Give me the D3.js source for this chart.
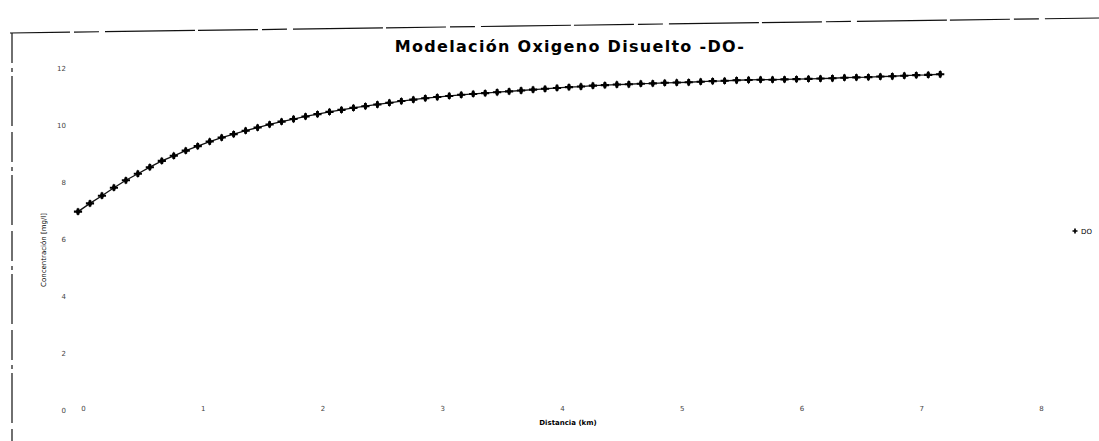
<!DOCTYPE html>
<html>
<head>
<meta charset="utf-8">
<script src="https://cdn.jsdelivr.net/npm/d3@7"></script>
<style>
  body { margin: 0; background: #fff; }
  text { font-family: "DejaVu Sans", sans-serif; }
</style>
</head>
<body>
<svg width="1099" height="441"></svg>
<script>
// distance (km) of each modelled point
var distancias = [0.0,0.1,0.2,0.3,0.4,0.5,0.6,0.7,0.8,0.9,1.0,1.1,1.2,1.3,1.4,1.5,1.6,1.7,1.8,1.9,
  2.0,2.1,2.2,2.3,2.4,2.5,2.6,2.7,2.8,2.9,3.0,3.1,3.2,3.3,3.4,3.5,3.6,3.7,3.8,3.9,
  4.0,4.1,4.2,4.3,4.4,4.5,4.6,4.7,4.8,4.9,5.0,5.1,5.2,5.3,5.4,5.5,5.6,5.7,5.8,5.9,
  6.0,6.1,6.2,6.3,6.4,6.5,6.6,6.7,6.8,6.9,7.0,7.1,7.2];
// dissolved oxygen (mg/l)
var oxigeno = [6.96,7.25,7.52,7.80,8.06,8.29,8.52,8.74,8.92,9.10,9.26,9.42,9.56,9.68,9.80,9.91,10.02,10.12,10.21,10.30,
  10.38,10.46,10.53,10.60,10.66,10.72,10.78,10.84,10.89,10.94,10.98,11.02,11.06,11.09,11.12,11.15,11.18,11.21,11.24,11.27,
  11.30,11.33,11.35,11.38,11.40,11.42,11.43,11.45,11.46,11.48,11.49,11.50,11.52,11.54,11.55,11.57,11.58,11.59,11.59,11.60,
  11.61,11.62,11.63,11.64,11.66,11.67,11.68,11.70,11.71,11.73,11.75,11.76,11.78];
var yTicks = [0, 2, 4, 6, 8, 10, 12];
var xTicks = [0, 1, 2, 3, 4, 5, 6, 7, 8];

var svg = d3.select("svg");

// scanned page frame
svg.append("line").attr("x1",10).attr("y1",33).attr("x2",1099).attr("y2",18)
  .style("stroke","#111").style("stroke-width","1.2px").style("stroke-dasharray","60 4 25 6 90 3");
svg.append("line").attr("x1",12).attr("y1",33).attr("x2",12).attr("y2",441)
  .style("stroke","#111").style("stroke-width","1.2px").style("stroke-dasharray","30 5 4 4 50 6");

var x = d3.scaleLinear().domain([0, 8]).range([78, 1036]);
var y = d3.scaleLinear().domain([0, 12]).range([410, 68]);

// axes: labels only, no lines
var gy = svg.append("g").attr("transform","translate(70,0)")
  .call(d3.axisLeft(y).tickValues(yTicks).tickSize(0).tickPadding(4));
gy.select(".domain").remove();
gy.selectAll("text").style("font-size","7px").style("fill","#444");

var gx = svg.append("g").attr("transform","translate(5,404)")
  .call(d3.axisBottom(x).tickValues(xTicks).tickSize(0).tickPadding(2));
gx.select(".domain").remove();
gx.selectAll("text").style("font-size","7px").style("fill","#444");

svg.append("text").attr("x",570).attr("y",52).attr("text-anchor","middle")
  .style("font-size","16px").style("font-weight","bold").style("letter-spacing","1.3px")
  .text("Modelación Oxigeno Disuelto -DO-");

svg.append("text").attr("x",568).attr("y",425).attr("text-anchor","middle")
  .style("font-size","7px").style("font-weight","bold").text("Distancia (km)");

svg.append("text").attr("transform","translate(46,250) rotate(-90)").attr("text-anchor","middle")
  .style("font-size","7px").text("Concentración [mg/l]");

var pts = distancias.map(function(d, i) { return [d, oxigeno[i]]; });

svg.append("path").datum(pts)
  .attr("d", d3.line().x(function(d){ return x(d[0]); }).y(function(d){ return y(d[1]); }))
  .style("fill","none").style("stroke","#111").style("stroke-width","1.3px");

svg.selectAll(".pt").data(pts).enter().append("path").attr("class","pt")
  .attr("transform", function(d){ return "translate(" + x(d[0]) + "," + y(d[1]) + ")"; })
  .attr("d", d3.symbol().type(d3.symbolDiamond).size(20))
  .style("fill","#000");
svg.selectAll(".ptc").data(pts).enter().append("path").attr("class","ptc")
  .attr("transform", function(d){ return "translate(" + x(d[0]) + "," + y(d[1]) + ") scale(1.3,1)"; })
  .attr("d", d3.symbol().type(d3.symbolCross).size(22))
  .style("fill","#000");

// legend
svg.append("path").attr("transform","translate(1075,231)")
  .attr("d", d3.symbol().type(d3.symbolCross).size(14)).style("fill","#000");
svg.append("text").attr("x",1081).attr("y",234).style("font-size","7px").text("DO");
</script>
</body>
</html>
